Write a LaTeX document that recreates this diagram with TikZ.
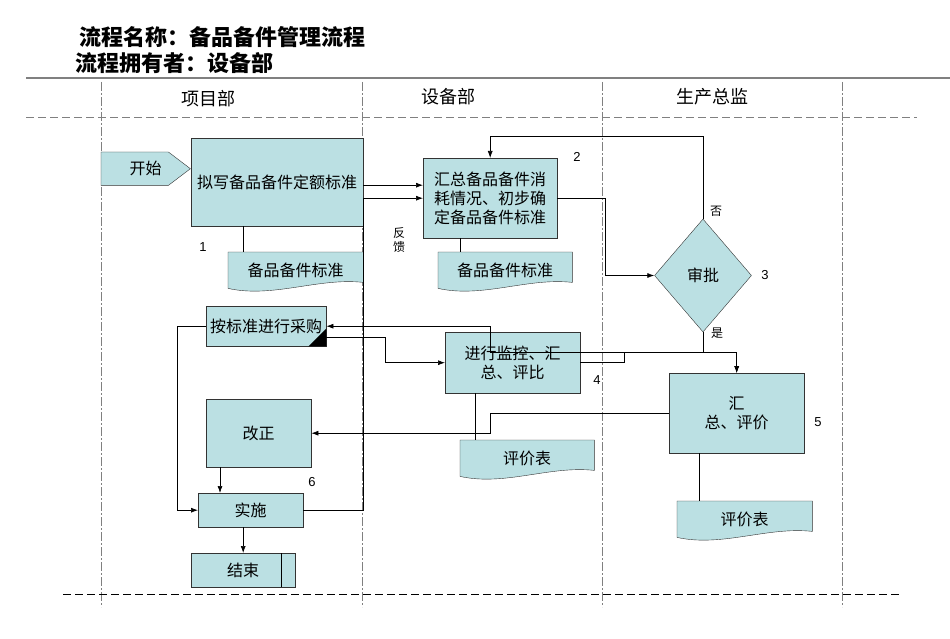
\documentclass[tikz,border=0pt]{standalone}
\usepackage{fontspec}
\setmainfont{Noto Sans CJK SC}
\newfontfamily\numfont{Liberation Sans}
\usetikzlibrary{shapes.geometric,arrows.meta,backgrounds}
\definecolor{boxfill}{RGB}{187,224,227}

\begin{document}
\begin{tikzpicture}[x=1pt,y=-1pt,
  box/.style={draw=black!80, fill=boxfill, anchor=north west, inner sep=0pt, align=center, font=\fontsize{16}{19}\selectfont},
  doc/.style={anchor=north west, inner sep=0pt, minimum height=36pt, font=\fontsize{16}{19}\selectfont},
  decision/.style={diamond, draw=black!80, fill=boxfill, inner sep=0pt, minimum width=97pt, minimum height=113pt, font=\fontsize{16}{19}\selectfont},
  lane/.style={gray, line width=0.8pt, dash pattern=on 9pt off 2pt on 2pt off 2pt},
  headline/.style={gray, line width=1pt, dash pattern=on 8pt off 4pt},
  link/.style={black, line width=0.7pt},
  arr/.style={-{Latex[length=7pt,width=5pt]}},
  num/.style={font=\numfont\fontsize{13}{13}\selectfont},
  small/.style={font=\fontsize{12}{14}\selectfont}]
  \useasboundingbox (0,0) rectangle (950,639);

  \node[anchor=west, font=\bfseries\fontsize{22}{22}\selectfont] (t1) at (76,37) {流程名称：备品备件管理流程};
  \node[anchor=west, font=\bfseries\fontsize{22}{22}\selectfont] (t2) at (72,63) {流程拥有者：设备部};
  \node[font=\fontsize{18}{18}\selectfont] (h1) at (208,99) {项目部};
  \node[font=\fontsize{18}{18}\selectfont] (h2) at (448,97) {设备部};
  \node[font=\fontsize{18}{18}\selectfont] (h3) at (712,97) {生产总监};

  \node[anchor=north west, inner sep=0pt, minimum width=89pt, minimum height=33pt, font=\fontsize{16}{19}\selectfont] (start) at (101,152) {开始};
  \node[box, minimum width=172pt, minimum height=88pt] (p1) at (191,138) {拟写备品备件定额标准};
  \node[doc, minimum width=135pt] (d1) at (228,252) {备品备件标准};
  \node[box, minimum width=134pt, minimum height=80pt] (p2) at (423,158) {汇总备品备件消\\耗情况、初步确\\定备品备件标准};
  \node[doc, minimum width=134pt] (d2) at (438,252) {备品备件标准};
  \node[decision] (dec) at (703,275.5) {审批};
  \node[box, minimum width=120pt, minimum height=40pt] (p3) at (206,306) {按标准进行采购};
  \node[box, minimum width=135pt, minimum height=61pt] (p4) at (445,332) {进行监控、汇\\总、评比};
  \node[doc, minimum width=134pt] (d4) at (460,440) {评价表};
  \node[box, minimum width=135pt, minimum height=80pt] (p5) at (669,373) {汇\\总、评价};
  \node[doc, minimum width=135pt] (d5) at (677,501) {评价表};
  \node[box, minimum width=105pt, minimum height=68pt] (p6) at (206,399) {改正};
  \node[box, minimum width=105pt, minimum height=34pt] (p7) at (198,493) {实施};
  \node[box, minimum width=104pt, minimum height=34pt] (p8) at (191,553) {结束};

  \begin{scope}[on background layer]
    \draw[gray, line width=1.5pt] (26,78) -- (950,78);
    \foreach \x in {101,362,602,842}
      \draw[lane] (\x,82) -- (\x,607);
    \draw[headline] (26,118) -- (917,118);
    \draw[black, line width=0.8pt, dash pattern=on 8pt off 4pt] (63,594) -- (900,594);
    \draw[draw=black!80, fill=boxfill] (start.north west) -- ([xshift=-22pt]start.north east) -- (start.east) -- ([xshift=-22pt]start.south east) -- (start.south west) -- cycle;
    \foreach \d in {d1,d2,d4,d5}
      \draw[draw=black!80, fill=boxfill] (\d.north west) -- (\d.north east) -- ([yshift=6pt]\d.south east) .. controls +(-45,-5) and +(45,10) .. (\d.south west) -- cycle;
  \end{scope}

  \draw[link] ([xshift=52pt]p1.south west) -- ([xshift=52pt]p1.south west |- d1.north);
  \draw[link,arr] ([yshift=13pt]p2.west -| p1.east) -- ([yshift=13pt]p2.west);
  \draw[link,arr] (p7.east) -- ++(60,0) |- (p2.west);
  \draw[link] ([xshift=37pt]p2.south west) -- ([xshift=37pt]p2.south west |- d2.north);
  \draw[link,arr] (p2.east) -- ++(48,0) |- (dec.west);
  \draw[link,arr] (dec.north) -- ++(0,-82) -| (p2.north);
  \draw[link,arr] (dec.south) -- ++(0,20) -| (p5.north);
  \draw[link,arr] (dec.south) -- ++(0,20) -- ++(-213,0) |- (p3.east);
  \draw[link,arr] ([yshift=-11pt]p3.east) -- ++(59,0) |- (p4.west);
  \draw[link,arr] (p4.east) -- ++(44,0) -- ++(0,-10) -| (p5.north);
  \draw[link] ([xshift=30pt]p4.south west) -- ([xshift=30pt]p4.south west |- d4.north);
  \draw[link,arr] (p5.west) -- ++(-179,0) |- (p6.east);
  \draw[link] ([xshift=30pt]p5.south west) -- ([xshift=30pt]p5.south west |- d5.north);
  \draw[link,arr] (p3.west) -- ++(-29,0) |- (p7.west);
  \draw[link,arr] ([xshift=14pt]p6.south west) -- ([xshift=14pt]p6.south west |- p7.north);
  \draw[link,arr] (p7.south -| p8.north) -- (p8.north);
  \draw[link] ([xshift=-14pt]p8.north east) -- ([xshift=-14pt]p8.south east);
  \fill (p3.south east) -- ++(-18,0) -- ++(18,-18) -- cycle;

  \node[num] (n1) at (203,247) {1};
  \node[num] (n2) at (577,157) {2};
  \node[num] (n3) at (765,275) {3};
  \node[num] (n4) at (597,380) {4};
  \node[num] (n5) at (818,422) {5};
  \node[num] (n6) at (312,482) {6};
  \node[small] (no) at (716,211) {否};
  \node[small] (yes) at (717,333) {是};
  \node[small, align=center] (fb) at (399,240) {反\\馈};
\end{tikzpicture}
\end{document}
